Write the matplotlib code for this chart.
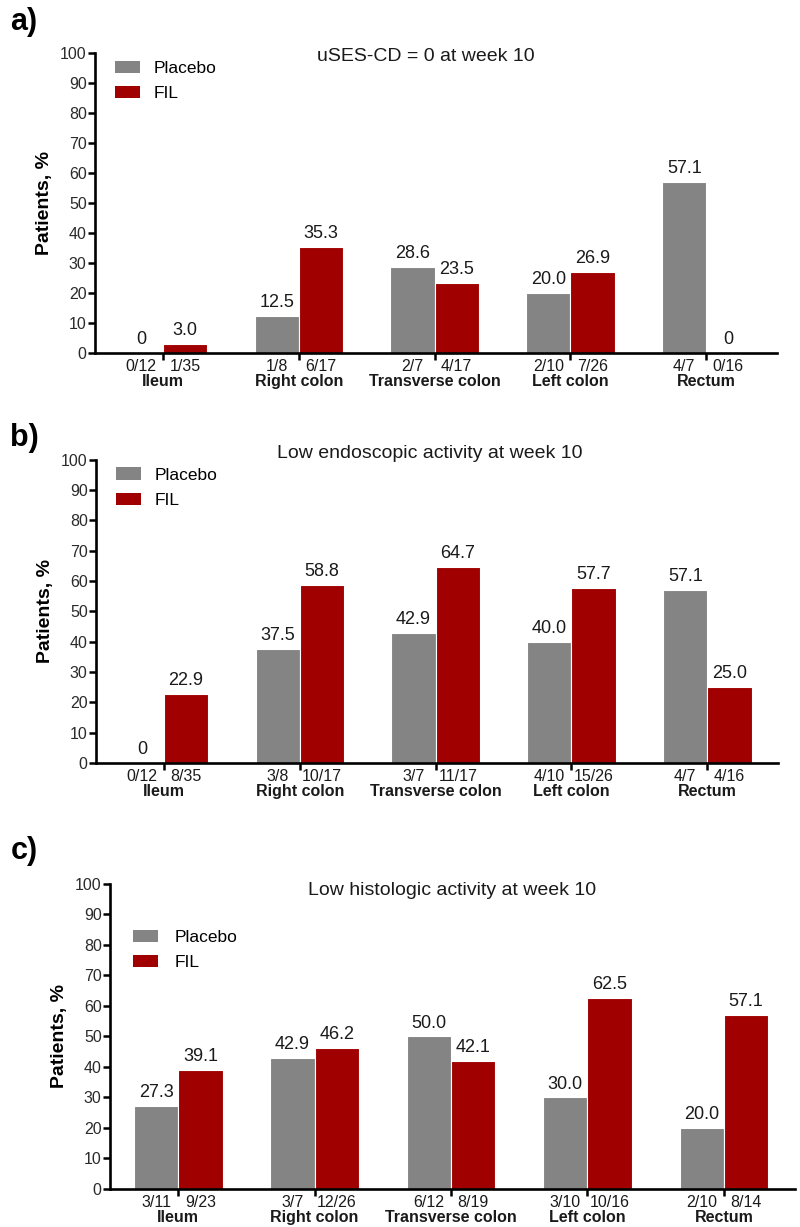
import matplotlib
matplotlib.use("Agg")
import matplotlib.pyplot as plt
from matplotlib.patches import Patch

plt.rcParams["font.family"] = ["Liberation Sans", "DejaVu Sans"]

# Daten
segments = ["Ileum", "Right colon", "Transverse colon", "Left colon", "Rectum"]

a_title = "uSES-CD = 0 at week 10"
a_placebo = [0, 12.5, 28.6, 20.0, 57.1]
a_fil = [3.0, 35.3, 23.5, 26.9, 0]
a_placebo_n = ["0/12", "1/8", "2/7", "2/10", "4/7"]
a_fil_n = ["1/35", "6/17", "4/17", "7/26", "0/16"]

b_title = "Low endoscopic activity at week 10"
b_placebo = [0, 37.5, 42.9, 40.0, 57.1]
b_fil = [22.9, 58.8, 64.7, 57.7, 25.0]
b_placebo_n = ["0/12", "3/8", "3/7", "4/10", "4/7"]
b_fil_n = ["8/35", "10/17", "11/17", "15/26", "4/16"]

c_title = "Low histologic activity at week 10"
c_placebo = [27.3, 42.9, 50.0, 30.0, 20.0]
c_fil = [39.1, 46.2, 42.1, 62.5, 57.1]
c_placebo_n = ["3/11", "3/7", "6/12", "3/10", "2/10"]
c_fil_n = ["9/23", "12/26", "8/19", "10/16", "8/14"]

GREY = "#848484"
RED = "#a00000"
W = 0.325


def fmt(v):
    return "0" if v == 0 else f"{v:.1f}"


def panel(rect, letter, letter_y, title, title_xy, placebo, fil, pn, fn, leg_xy, leg_pad):
    ax = fig.add_axes(rect)
    x = list(range(len(segments)))
    xp = [i - W / 2 for i in x]
    xf = [i + W / 2 for i in x]
    ax.bar(xp, placebo, W, color=GREY, edgecolor="white", linewidth=0.8)
    ax.bar(xf, fil, W, color=RED, edgecolor="white", linewidth=0.8)

    for xs, vals in ((xp, placebo), (xf, fil)):
        for xi, v in zip(xs, vals):
            ax.annotate(fmt(v), (xi, v), xytext=(0, 3.5), textcoords="offset points",
                        ha="center", va="bottom", fontsize=13, color="#1a1a1a")

    for xs, labs in ((xp, pn), (xf, fn)):
        for xi, s in zip(xs, labs):
            ax.annotate(s, (xi, 0), xycoords=("data", "axes fraction"),
                        xytext=(0, -4), textcoords="offset points",
                        ha="center", va="top", fontsize=11.5, color="#1a1a1a")
    for xi, s in zip(x, segments):
        ax.annotate(s, (xi, 0), xycoords=("data", "axes fraction"),
                    xytext=(0, -15), textcoords="offset points",
                    ha="center", va="top", fontsize=11.5, fontweight="bold", color="#1a1a1a")

    ax.set_xlim(-0.5, 4.52)
    ax.set_ylim(0, 100)
    ax.set_yticks(range(0, 101, 10))
    ax.set_xticks(x)
    ax.set_xticklabels([])
    ax.tick_params(axis="y", length=5, width=1.8, labelsize=11.5, pad=1, labelcolor="#2a2a2a")
    ax.tick_params(axis="x", length=5, width=1.8)
    for s in ("top", "right"):
        ax.spines[s].set_visible(False)
    for s in ("left", "bottom"):
        ax.spines[s].set_linewidth(1.9)
    ax.set_ylabel("Patients, %", fontsize=14, fontweight="bold", labelpad=5)

    ax.text(title_xy[0], title_xy[1], title, transform=ax.transAxes,
            ha="center", va="center", fontsize=14, color="#1a1a1a")
    fig.text(0.013, letter_y, letter, fontsize=22, fontweight="bold", va="center", ha="left")

    handles = [Patch(facecolor=GREY), Patch(facecolor=RED)]
    ax.legend(handles, ["Placebo", "FIL"], loc="upper left", bbox_to_anchor=leg_xy,
              frameon=False, fontsize=12.5, handlelength=1.4, handleheight=0.7,
              handletextpad=leg_pad, labelspacing=0.6, borderpad=0, borderaxespad=0)
    return ax


fig = plt.figure(figsize=(8, 12.27), dpi=100)

panel([0.11875, 0.7123, 0.8525, 0.2445], "a)", 1 - 22 / 1227, a_title, (0.485, 0.99),
      a_placebo, a_fil, a_placebo_n, a_fil_n, (0.03, 0.975), 0.8)
panel([0.12, 0.3782, 0.8525, 0.247], "b)", 1 - 438 / 1227, b_title, (0.49, 1.02),
      b_placebo, b_fil, b_placebo_n, b_fil_n, (0.03, 0.975), 0.8)
panel([0.1375, 0.0310, 0.856, 0.2486], "c)", 1 - 851 / 1227, c_title, (0.50, 0.98),
      c_placebo, c_fil, c_placebo_n, c_fil_n, (0.034, 0.85), 1.0)

fig.savefig("out.png", dpi=100)
